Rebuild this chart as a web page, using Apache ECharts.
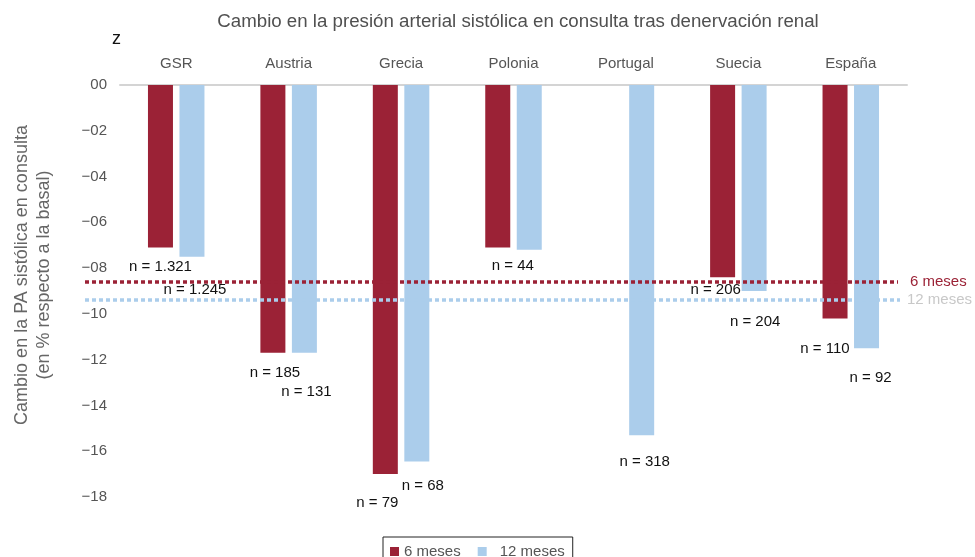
<!DOCTYPE html>
<html>
<head>
<meta charset="utf-8">
<script src="https://cdn.jsdelivr.net/npm/echarts@6/dist/echarts.min.js"></script>
<style>
  html, body { margin: 0; padding: 0; background: #fff; }
  #chart { width: 975px; height: 557px; }
</style>
</head>
<body>
<div id="chart"></div>
<script>
// Office systolic BP change after renal denervation, by registry
const categories = ['GSR', 'Austria', 'Grecia', 'Polonia', 'Portugal', 'Suecia', 'España'];
const change6m  = [-7.1, -11.7, -17.0, -7.1, null, -8.4, -10.2];
const change12m = [-7.5, -11.7, -16.45, -7.2, -15.3, -9.0, -11.5];
const n6m  = [1321, 185, 79, 44, null, 206, 110];
const n12m = [1245, 131, 68, null, 318, 204, 92];
const mean6m = -8.6;
const mean12m = -9.4;
const yTicks = { min: -18, max: 0, step: 2 };

// label nudges (px) relative to each bar's lower end
const labelShift6m  = [[0, 12], [2, 13], [-8, 21], [15, 11], [0, 0], [-7, 5], [-10, 23]];
const labelShift12m = [[3, 26], [2, 32], [6, 17], [0, 0], [3, 19], [1, 23], [4, 22]];

const RED = '#9b2236';
const BLUE = '#abcdeb';
const FONT = '"Liberation Sans", Arial, Helvetica, sans-serif';

function fmtN(v) {
  return 'n = ' + String(v).replace(/\B(?=(\d{3})+(?!\d))/g, '.');
}
function fmtTick(v) {
  const a = Math.abs(Math.round(v));
  const s = (a < 10 ? '0' : '') + a;
  return v < 0 ? '\u2212' + s : s;
}
function barData(values, counts, shifts) {
  return values.map((v, i) => ({
    value: v,
    label: counts[i] == null ? { show: false } : {
      show: true,
      formatter: fmtN(counts[i]),
      offset: shifts[i]
    }
  }));
}
function refLine(value, name, color, labelColor, endX, gap) {
  return {
    silent: true,
    z: 10,
    symbol: ['none', 'none'],
    lineStyle: { color: color, type: [4, 3], width: 3.5, cap: 'butt' },
    label: {
      show: true, position: 'end', formatter: name, distance: gap,
      color: labelColor, fontSize: 15, fontFamily: FONT
    },
    data: [[{ x: 85, yAxis: value }, { x: endX, yAxis: value }]]
  };
}

const chart = echarts.init(document.getElementById('chart'));
chart.setOption({
  animation: false,
  backgroundColor: '#fff',
  textStyle: { fontFamily: FONT },
  title: {
    text: 'Cambio en la presión arterial sistólica en consulta tras denervación renal',
    left: 513, top: 7, textAlign: 'center',
    textStyle: { color: '#505050', fontSize: 18.7, fontWeight: 'normal', fontFamily: FONT }
  },
  graphic: [
    {
      type: 'text', left: 112, top: 30,
      style: { text: 'z', fill: '#111', fontSize: 18, fontFamily: FONT }
    },
    {
      type: 'text', x: 33, y: 275, rotation: Math.PI / 2,
      style: {
        text: 'Cambio en la PA sistólica en consulta\n(en % respecto a la basal)',
        fill: '#666', fontSize: 18, fontFamily: FONT, lineHeight: 22,
        align: 'center', verticalAlign: 'middle'
      }
    }
  ],
  legend: {
    left: 383, top: 537,
    data: [
      { name: '6 meses' },
      { name: '12 meses', textStyle: { padding: [0, 0, 0, 8] } }
    ],
    icon: 'rect', itemWidth: 9, itemHeight: 9, itemGap: 17,
    padding: [7, 8, 7, 7],
    borderColor: '#222', borderWidth: 1,
    textStyle: { color: '#555', fontSize: 15, fontFamily: FONT }
  },
  grid: { left: 120, right: 68, top: 85, bottom: 60 },
  xAxis: {
    type: 'category', position: 'top', data: categories,
    axisLine: { show: true, lineStyle: { color: '#d4d4d4', width: 2 } },
    axisTick: { show: false },
    axisLabel: { color: '#555', fontSize: 15, margin: 14, fontFamily: FONT }
  },
  yAxis: {
    type: 'value', min: yTicks.min, max: yTicks.max, interval: yTicks.step,
    axisLine: { show: false }, axisTick: { show: false },
    splitLine: { show: false },
    axisLabel: { color: '#555', fontSize: 15, margin: 13, formatter: fmtTick, fontFamily: FONT }
  },
  series: [
    {
      name: '6 meses', type: 'bar', barWidth: 25, barGap: '26%',
      itemStyle: { color: RED },
      label: { position: 'bottom', distance: 0, color: '#111', fontSize: 15, fontFamily: FONT },
      data: barData(change6m, n6m, labelShift6m),
      markLine: refLine(mean6m, '6 meses', RED, RED, 898, 12),
      z: 2
    },
    {
      name: '12 meses', type: 'bar', barWidth: 25, barGap: '26%',
      itemStyle: { color: BLUE },
      label: { position: 'bottom', distance: 0, color: '#111', fontSize: 15, fontFamily: FONT },
      data: barData(change12m, n12m, labelShift12m),
      markLine: refLine(mean12m, '12 meses', BLUE, '#c8c8c8', 900, 7),
      z: 2
    }
  ]
});
</script>
</body>
</html>
